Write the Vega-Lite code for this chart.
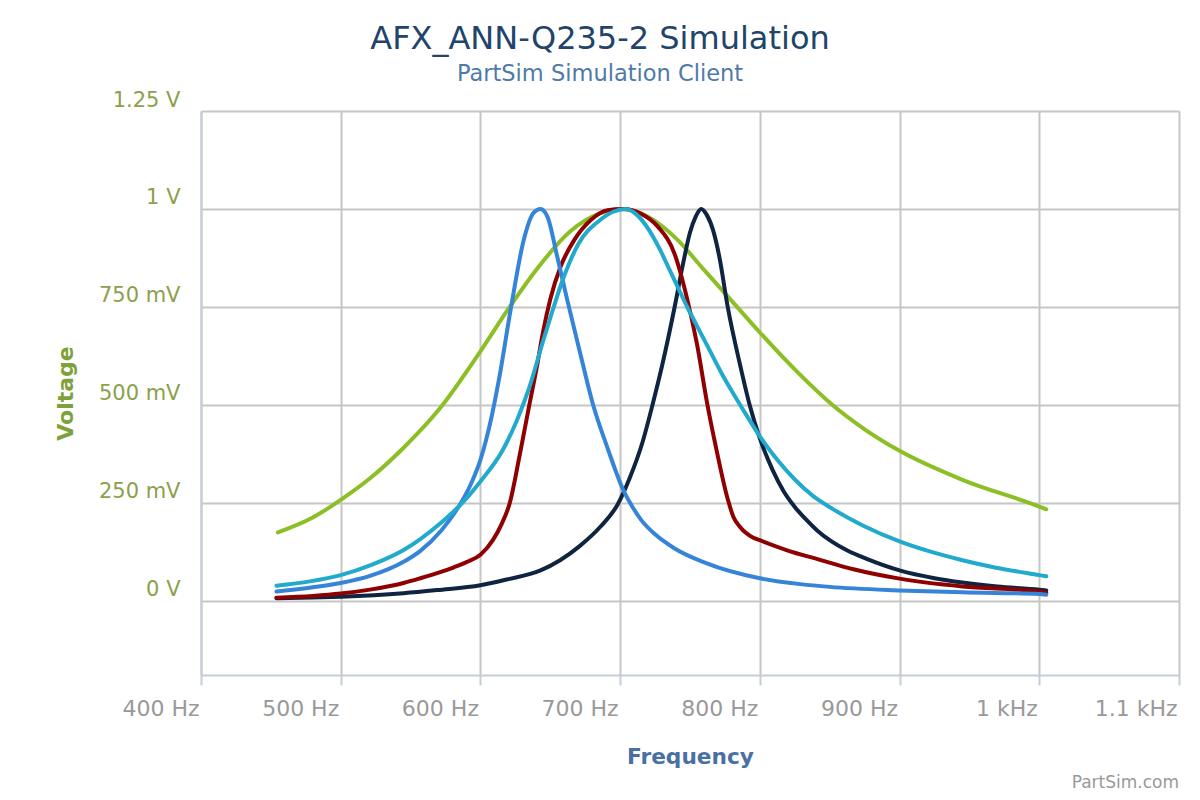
{
  "$schema": "https://vega.github.io/schema/vega-lite/v6.json",
  "width": 978,
  "height": 564,
  "autosize": {"type": "none"},
  "padding": {"left": 201, "top": 111, "right": 21, "bottom": 125},
  "background": "white",
  "config": {"font": "DejaVu Sans", "view": {"stroke": null}},
  "title": {
    "text": "AFX_ANN-Q235-2 Simulation",
    "subtitle": "PartSim Simulation Client",
    "fontSize": 32,
    "fontWeight": "normal",
    "color": "#22446a",
    "subtitleFontSize": 22.5,
    "subtitleColor": "#4f7aa8",
    "subtitlePadding": 7,
    "anchor": "middle",
    "frame": "group",
    "dx": -90,
    "offset": 3
  },
  "layer": [
    {
      "data": {"values": [
        {"series":"s1","freq":455,"volt":0.175},{"series":"s1","freq":480,"volt":0.213},{"series":"s1","freq":500,"volt":0.258},{"series":"s1","freq":521,"volt":0.313},{"series":"s1","freq":545,"volt":0.391},{"series":"s1","freq":570,"volt":0.487},{"series":"s1","freq":600,"volt":0.637},{"series":"s1","freq":620,"volt":0.745},{"series":"s1","freq":640,"volt":0.845},{"series":"s1","freq":665,"volt":0.945},{"series":"s1","freq":685,"volt":0.988},{"series":"s1","freq":702,"volt":1.0},{"series":"s1","freq":720,"volt":0.98},{"series":"s1","freq":740,"volt":0.925},{"series":"s1","freq":760,"volt":0.845},{"series":"s1","freq":780,"volt":0.765},{"series":"s1","freq":800,"volt":0.685},{"series":"s1","freq":828,"volt":0.58},{"series":"s1","freq":852,"volt":0.5},{"series":"s1","freq":875,"volt":0.438},{"series":"s1","freq":900,"volt":0.383},{"series":"s1","freq":945,"volt":0.309},{"series":"s1","freq":1000,"volt":0.241},{"series":"s1","freq":1005,"volt":0.234},
        {"series":"s5","freq":454,"volt":0.007},{"series":"s5","freq":480,"volt":0.009},{"series":"s5","freq":500,"volt":0.011},{"series":"s5","freq":545,"volt":0.02},{"series":"s5","freq":569,"volt":0.028},{"series":"s5","freq":600,"volt":0.04},{"series":"s5","freq":619,"volt":0.055},{"series":"s5","freq":643,"volt":0.078},{"series":"s5","freq":657,"volt":0.104},{"series":"s5","freq":671,"volt":0.14},{"series":"s5","freq":686,"volt":0.19},{"series":"s5","freq":698,"volt":0.245},{"series":"s5","freq":707,"volt":0.315},{"series":"s5","freq":716,"volt":0.405},{"series":"s5","freq":723.5,"volt":0.505},{"series":"s5","freq":730,"volt":0.6},{"series":"s5","freq":739,"volt":0.75},{"series":"s5","freq":745,"volt":0.86},{"series":"s5","freq":750,"volt":0.94},{"series":"s5","freq":754,"volt":0.98},{"series":"s5","freq":758,"volt":1.0},{"series":"s5","freq":762,"volt":0.985},{"series":"s5","freq":766.5,"volt":0.946},{"series":"s5","freq":771,"volt":0.878},{"series":"s5","freq":777,"volt":0.75},{"series":"s5","freq":786,"volt":0.6},{"series":"s5","freq":792.7,"volt":0.5},{"series":"s5","freq":800,"volt":0.415},{"series":"s5","freq":809,"volt":0.335},{"series":"s5","freq":817,"volt":0.28},{"series":"s5","freq":825,"volt":0.24},{"series":"s5","freq":833,"volt":0.208},{"series":"s5","freq":841,"volt":0.18},{"series":"s5","freq":850,"volt":0.155},{"series":"s5","freq":863,"volt":0.128},{"series":"s5","freq":876,"volt":0.108},{"series":"s5","freq":900,"volt":0.078},{"series":"s5","freq":925,"volt":0.058},{"series":"s5","freq":945,"volt":0.047},{"series":"s5","freq":970,"volt":0.037},{"series":"s5","freq":1000,"volt":0.029},{"series":"s5","freq":1005,"volt":0.027},
        {"series":"s4","freq":454,"volt":0.0085},{"series":"s4","freq":480,"volt":0.013},{"series":"s4","freq":500,"volt":0.019},{"series":"s4","freq":521,"volt":0.029},{"series":"s4","freq":545,"volt":0.046},{"series":"s4","freq":557,"volt":0.058},{"series":"s4","freq":569,"volt":0.071},{"series":"s4","freq":581,"volt":0.086},{"series":"s4","freq":590,"volt":0.099},{"series":"s4","freq":600,"volt":0.118},{"series":"s4","freq":609,"volt":0.156},{"series":"s4","freq":615,"volt":0.195},{"series":"s4","freq":621,"volt":0.25},{"series":"s4","freq":628,"volt":0.37},{"series":"s4","freq":635,"volt":0.5},{"series":"s4","freq":640,"volt":0.59},{"series":"s4","freq":645,"volt":0.69},{"series":"s4","freq":650,"volt":0.77},{"series":"s4","freq":657.6,"volt":0.855},{"series":"s4","freq":667,"volt":0.92},{"series":"s4","freq":679,"volt":0.972},{"series":"s4","freq":691,"volt":0.997},{"series":"s4","freq":702,"volt":1.0},{"series":"s4","freq":715,"volt":0.988},{"series":"s4","freq":727,"volt":0.955},{"series":"s4","freq":739,"volt":0.885},{"series":"s4","freq":748,"volt":0.77},{"series":"s4","freq":755,"volt":0.655},{"series":"s4","freq":762.5,"volt":0.5},{"series":"s4","freq":769,"volt":0.385},{"series":"s4","freq":777,"volt":0.26},{"series":"s4","freq":781,"volt":0.215},{"series":"s4","freq":786,"volt":0.188},{"series":"s4","freq":795,"volt":0.162},{"series":"s4","freq":800,"volt":0.155},{"series":"s4","freq":819,"volt":0.13},{"series":"s4","freq":843,"volt":0.105},{"series":"s4","freq":867,"volt":0.081},{"series":"s4","freq":900,"volt":0.057},{"series":"s4","freq":945,"volt":0.037},{"series":"s4","freq":1000,"volt":0.024},{"series":"s4","freq":1005,"volt":0.021},
        {"series":"s3","freq":454,"volt":0.024},{"series":"s3","freq":480,"volt":0.035},{"series":"s3","freq":500,"volt":0.046},{"series":"s3","freq":521,"volt":0.064},{"series":"s3","freq":545,"volt":0.1},{"series":"s3","freq":557,"volt":0.128},{"series":"s3","freq":572,"volt":0.18},{"series":"s3","freq":581,"volt":0.222},{"series":"s3","freq":588,"volt":0.262},{"series":"s3","freq":594,"volt":0.305},{"series":"s3","freq":600,"volt":0.36},{"series":"s3","freq":604,"volt":0.41},{"series":"s3","freq":608,"volt":0.47},{"series":"s3","freq":613,"volt":0.56},{"series":"s3","freq":622,"volt":0.751},{"series":"s3","freq":631,"volt":0.921},{"series":"s3","freq":638,"volt":0.99},{"series":"s3","freq":643,"volt":1.0},{"series":"s3","freq":648,"volt":0.98},{"series":"s3","freq":655,"volt":0.878},{"series":"s3","freq":662,"volt":0.77},{"series":"s3","freq":672,"volt":0.623},{"series":"s3","freq":681,"volt":0.496},{"series":"s3","freq":691,"volt":0.39},{"series":"s3","freq":697,"volt":0.33},{"series":"s3","freq":702,"volt":0.285},{"series":"s3","freq":708,"volt":0.245},{"series":"s3","freq":715,"volt":0.207},{"series":"s3","freq":725,"volt":0.17},{"series":"s3","freq":739,"volt":0.134},{"series":"s3","freq":762,"volt":0.096},{"series":"s3","freq":800,"volt":0.058},{"series":"s3","freq":829,"volt":0.043},{"series":"s3","freq":850,"volt":0.036},{"series":"s3","freq":900,"volt":0.027},{"series":"s3","freq":945,"volt":0.022},{"series":"s3","freq":1000,"volt":0.018},{"series":"s3","freq":1005,"volt":0.016},
        {"series":"s2","freq":454,"volt":0.039},{"series":"s2","freq":478,"volt":0.05},{"series":"s2","freq":500,"volt":0.066},{"series":"s2","freq":522,"volt":0.092},{"series":"s2","freq":545,"volt":0.13},{"series":"s2","freq":557,"volt":0.158},{"series":"s2","freq":572,"volt":0.2},{"series":"s2","freq":581,"volt":0.229},{"series":"s2","freq":590,"volt":0.262},{"series":"s2","freq":600,"volt":0.305},{"series":"s2","freq":616,"volt":0.385},{"series":"s2","freq":626,"volt":0.46},{"series":"s2","freq":635,"volt":0.545},{"series":"s2","freq":645,"volt":0.665},{"series":"s2","freq":652,"volt":0.745},{"series":"s2","freq":659,"volt":0.82},{"series":"s2","freq":670,"volt":0.91},{"series":"s2","freq":685,"volt":0.97},{"series":"s2","freq":695,"volt":0.993},{"series":"s2","freq":704,"volt":1.0},{"series":"s2","freq":712,"volt":0.985},{"series":"s2","freq":720,"volt":0.95},{"series":"s2","freq":728,"volt":0.9},{"series":"s2","freq":736,"volt":0.84},{"series":"s2","freq":742,"volt":0.795},{"series":"s2","freq":748,"volt":0.75},{"series":"s2","freq":756,"volt":0.695},{"series":"s2","freq":764,"volt":0.64},{"series":"s2","freq":772,"volt":0.585},{"series":"s2","freq":780,"volt":0.535},{"series":"s2","freq":788,"volt":0.488},{"series":"s2","freq":800,"volt":0.42},{"series":"s2","freq":812,"volt":0.362},{"series":"s2","freq":825,"volt":0.31},{"series":"s2","freq":838,"volt":0.268},{"series":"s2","freq":852,"volt":0.235},{"series":"s2","freq":874,"volt":0.192},{"series":"s2","freq":900,"volt":0.152},{"series":"s2","freq":921,"volt":0.127},{"series":"s2","freq":945,"volt":0.104},{"series":"s2","freq":969,"volt":0.085},{"series":"s2","freq":1000,"volt":0.066},{"series":"s2","freq":1005,"volt":0.063}
      ]},
      "mark": {"type": "line", "interpolate": "monotone", "strokeWidth": 4, "strokeCap": "round"},
      "encoding": {
        "x": {
          "field": "freq", "type": "quantitative",
          "scale": {"domain": [400, 1100], "nice": false, "zero": false},
          "axis": {
            "values": [400, 500, 600, 700, 800, 900, 1000, 1100],
            "labelExpr": "datum.value >= 1000 ? format(datum.value / 1000, '~g') + ' kHz' : datum.value + ' Hz'",
            "labelAlign": "right", "labelBaseline": "top", "labelFontSize": 22, "labelColor": "#999999",
            "labelPadding": 13, "labelOffset": -2, "labelFlush": false, "labelOverlap": false,
            "tickSize": 10, "tickColor": "#c5cdd8", "tickWidth": 2,
            "domainColor": "#c5cdd8", "domainWidth": 2,
            "gridColor": "#c6c6c6", "gridWidth": 2,
            "title": "Frequency", "titleFontSize": 21.7, "titleFontWeight": "bold", "titleColor": "#4a6fa5", "titlePadding": 27
          }
        },
        "y": {
          "field": "volt", "type": "quantitative",
          "scale": {"domain": [-0.1888, 1.25], "nice": false, "zero": false},
          "axis": {
            "values": [0, 0.25, 0.5, 0.75, 1, 1.25],
            "labelExpr": "datum.value == 0 ? '0 V' : datum.value >= 1 ? datum.value + ' V' : round(datum.value * 1000) + ' mV'",
            "labelFontSize": 21, "labelColor": "#8ca04c", "labelPadding": 21, "labelBaseline": "alphabetic", "labelOffset": -5,
            "labelFlush": false, "labelOverlap": false,
            "ticks": false, "tickSize": 0,
            "domainColor": "#c5cdd8", "domainWidth": 2,
            "gridColor": "#c6c6c6", "gridWidth": 2,
            "title": "Voltage", "titleFontSize": 22, "titleFontWeight": "bold", "titleColor": "#7ea23a", "titlePadding": 21
          }
        },
        "color": {
          "field": "series", "type": "nominal",
          "scale": {"domain": ["s1", "s5", "s4", "s3", "s2"], "range": ["#8cbf26", "#0e2440", "#8f0000", "#3584d8", "#21aacb"]},
          "legend": null
        }
      }
    },
    {
      "data": {"values": [{"note": "PartSim.com"}]},
      "mark": {"type": "text", "align": "right", "baseline": "middle", "fontSize": 17, "color": "#999999"},
      "encoding": {
        "x": {"datum": 1100, "type": "quantitative"},
        "y": {"datum": -0.464, "type": "quantitative"},
        "text": {"field": "note", "type": "nominal"}
      }
    }
  ]
}
